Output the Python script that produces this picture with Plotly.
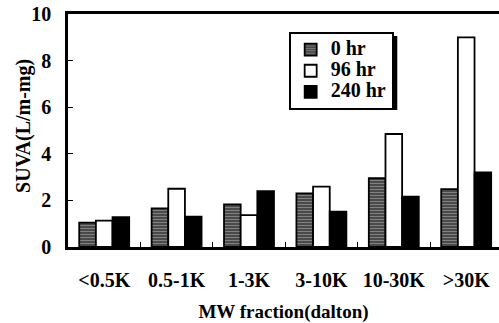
import plotly.graph_objects as go

# MW fractions and SUVA values at each sampling time
fractions = ["<0.5K", "0.5-1K", "1-3K", "3-10K", "10-30K", ">30K"]
suva_0hr = [1.05, 1.66, 1.83, 2.30, 2.95, 2.48]
suva_96hr = [1.13, 2.50, 1.37, 2.59, 4.85, 9.00]
suva_240hr = [1.28, 1.30, 2.40, 1.52, 2.16, 3.20]
series_names = ["0 hr", "96 hr", "240 hr"]
y_ticks = [0, 2, 4, 6, 8, 10]

FONT = "Liberation Serif"


def bold(s, size=None):
    s = s.replace("<", "&lt;").replace(">", "&gt;")
    if size:
        return f'<span style="font-size:{size}px"><b>{s}</b></span>'
    return f"<b>{s}</b>"


fig = go.Figure()
fig.add_trace(go.Bar(
    x=fractions, y=suva_0hr, name=bold(series_names[0], 20),
    marker=dict(color="#4a4a4a", line=dict(color="black", width=1.8),
                pattern=dict(shape="-", fgcolor="#b8b8b8", size=3, solidity=0.35)),
))
fig.add_trace(go.Bar(
    x=fractions, y=suva_96hr, name=bold(series_names[1], 20),
    marker=dict(color="white", line=dict(color="black", width=1.8)),
))
fig.add_trace(go.Bar(
    x=fractions, y=suva_240hr, name=bold(series_names[2], 20),
    marker=dict(color="black", line=dict(color="black", width=1.8)),
))

# drop shadow behind the legend box
fig.add_shape(type="rect", xref="paper", yref="paper",
              x0=0.515, x1=0.764, y0=0.588, y1=0.906,
              fillcolor="black", line=dict(width=0), layer="above")

# vertical axis title
fig.add_annotation(text=bold("SUVA(L/m-mg)"), textangle=-90,
                   xref="paper", yref="paper", x=-0.102, y=0.52,
                   xanchor="center", yanchor="middle", showarrow=False,
                   font=dict(family=FONT, size=20, color="black"))

fig.update_layout(
    width=499, height=323,
    margin=dict(l=68, r=0, t=14, b=76),
    paper_bgcolor="white", plot_bgcolor="white",
    barmode="group", bargap=0.31, bargroupgap=0,
    font=dict(family=FONT, size=16, color="black"),
    showlegend=True,
    legend=dict(x=0.512, y=0.923, xanchor="left", yanchor="top",
                bgcolor="white", bordercolor="black", borderwidth=2,
                font=dict(family=FONT, size=14, color="black"),
                tracegroupgap=0),
    xaxis=dict(
        title=dict(text=bold("MW fraction(dalton)"), font=dict(size=19), standoff=18),
        tickvals=fractions, ticktext=[bold(f) for f in fractions],
        tickfont=dict(size=20), ticklabelstandoff=13,
        range=[-0.5, 5.453],
        showline=True, linecolor="black", linewidth=2.5, mirror=True,
        ticks="inside", tickson="boundaries", ticklen=5, tickcolor="black",
        showgrid=False, fixedrange=True,
    ),
    yaxis=dict(
        range=[0, 10], tickvals=y_ticks, ticktext=[bold(str(t)) for t in y_ticks],
        tickfont=dict(size=20), ticklabelstandoff=10,
        showline=True, linecolor="black", linewidth=2.5, mirror=False,
        ticks="inside", ticklen=5, tickcolor="black",
        showgrid=False, zeroline=False, fixedrange=True,
    ),
)

fig.write_html("out.html")
